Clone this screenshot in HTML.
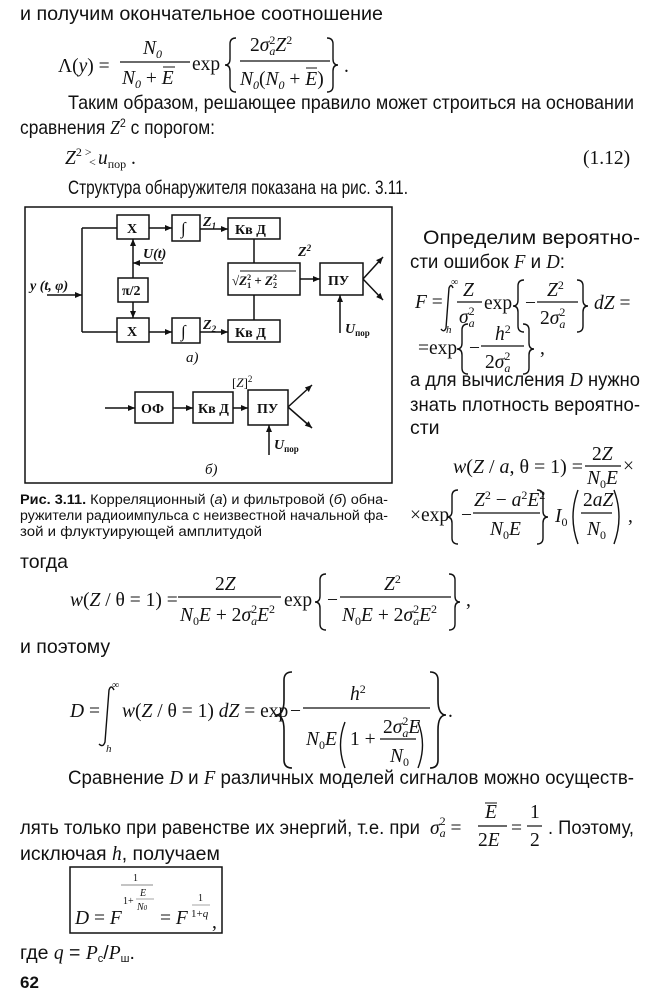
<!DOCTYPE html>
<html><head><meta charset="utf-8"><style>
html,body{margin:0;padding:0;background:#fff;width:650px;height:1000px;overflow:hidden}
svg{display:block;font-size:19.5px}
.t{font-family:"Liberation Sans",sans-serif;fill:#111}
.m{font-family:"Liberation Serif",serif;fill:#111}
.i{font-style:italic}
.s{font-size:12px}
.b{font-weight:bold}
.c{font-family:"Liberation Sans",sans-serif;font-size:13.5px;fill:#111}
.br{stroke:#111;stroke-width:1.4;fill:none}
</style></head><body>
<svg width="650" height="1000" viewBox="0 0 650 1000" xmlns="http://www.w3.org/2000/svg">
<defs><marker id="a" markerWidth="8" markerHeight="8" refX="7" refY="4" orient="auto" markerUnits="userSpaceOnUse"><path d="M0,1 L7,4 L0,7 z" fill="#111"/></marker></defs>
<text class="t" x="20" y="20" textLength="363" lengthAdjust="spacingAndGlyphs">и получим окончательное соотношение</text>
<text class="m" x="58" y="72">Λ(<tspan class="i">y</tspan>) =</text>
<text class="m i" x="143" y="54">N<tspan class="s" dy="4">0</tspan></text>
<line x1="120" y1="62" x2="190" y2="62" stroke="#111" stroke-width="1.2"/>
<text class="m i" x="122" y="84">N<tspan class="s" dy="4">0</tspan><tspan dy="-4" font-style="normal"> + </tspan>E</text>
<line x1="163" y1="67" x2="175" y2="67" stroke="#111" stroke-width="1"/>
<text class="m" x="192" y="70">exp</text>
<path class="br" d="M236,38 Q230,38 230,44 L230,59 Q230,65 225,65 Q230,65 230,71 L230,86 Q230,92 236,92"/>
<text class="m" x="250" y="51">2<tspan class="i">σ</tspan><tspan class="s" dy="-7">2</tspan><tspan class="s i" dx="-6" dy="11">a</tspan><tspan class="i" dy="-4">Z</tspan><tspan class="s" dy="-7">2</tspan></text>
<line x1="240" y1="61" x2="330" y2="61" stroke="#111" stroke-width="1.2"/>
<text class="m i" x="240" y="85">N<tspan class="s" dy="4">0</tspan><tspan dy="-4" font-style="normal">(</tspan>N<tspan class="s" dy="4">0</tspan><tspan dy="-4" font-style="normal"> + </tspan>E<tspan font-style="normal">)</tspan></text>
<line x1="306" y1="68" x2="317" y2="68" stroke="#111" stroke-width="1"/>
<path class="br" d="M327,38 Q333,38 333,44 L333,59 Q333,65 338,65 Q333,65 333,71 L333,86 Q333,92 327,92"/>
<text class="m" x="344" y="72">.</text>
<text class="t" x="68" y="109" textLength="566" lengthAdjust="spacingAndGlyphs">Таким образом, решающее правило может строиться на основании</text>
<text class="t" x="20" y="134" textLength="195" lengthAdjust="spacingAndGlyphs">сравнения <tspan class="i" font-family="Liberation Serif">Z</tspan><tspan font-size="12" dy="-7">2</tspan><tspan dy="7"> с порогом:</tspan></text>
<text class="m i" x="65" y="164">Z<tspan class="s" font-style="normal" dy="-8">2</tspan><tspan class="s" font-style="normal" dx="3" dy="0">&gt;</tspan></text>
<text class="m s" x="89" y="166">&lt;</text>
<text class="m i" x="98" y="164">u<tspan class="s" font-style="normal" dy="4">пор</tspan><tspan font-style="normal" dy="-4"> .</tspan></text>
<text class="m" x="583" y="164">(1.12)</text>
<text class="t" x="68" y="194" textLength="340" lengthAdjust="spacingAndGlyphs">Структура обнаружителя показана на рис. 3.11.</text>

<g stroke="#111" stroke-width="1.5" fill="none">
<rect x="25" y="207" width="367" height="276"/>
<rect x="117" y="215" width="32" height="24"/>
<rect x="172" y="215" width="28" height="26"/>
<rect x="228" y="218" width="52" height="21"/>
<rect x="228" y="263" width="72" height="32"/>
<rect x="320" y="263" width="43" height="32"/>
<rect x="118" y="278" width="30" height="24"/>
<rect x="117" y="318" width="32" height="24"/>
<rect x="172" y="318" width="28" height="25"/>
<rect x="228" y="320" width="52" height="22"/>
<path d="M82,228 L82,332 M82,228 L117,228 M82,332 L117,332"/>
<path d="M47,295 L82,295" marker-end="url(#a)"/>
<path d="M149,228 L172,228" marker-end="url(#a)"/>
<path d="M149,332 L172,332" marker-end="url(#a)"/>
<path d="M200,229 L228,229" marker-end="url(#a)"/>
<path d="M200,332 L228,332" marker-end="url(#a)"/>
<path d="M133,278 L133,239" marker-end="url(#a)"/>
<path d="M163,263 L133,263" marker-end="url(#a)"/>
<path d="M133,302 L133,318" marker-end="url(#a)"/>
<path d="M254,239 L254,263 M254,295 L254,320"/>
<path d="M300,279 L320,279" marker-end="url(#a)"/>
<path d="M363,279 L383,257" marker-end="url(#a)"/>
<path d="M363,279 L383,300" marker-end="url(#a)"/>
<path d="M340,333 L340,295" marker-end="url(#a)"/>
<rect x="135" y="392" width="38" height="31"/>
<rect x="193" y="392" width="40" height="31"/>
<rect x="248" y="390" width="40" height="35"/>
<path d="M105,408 L135,408" marker-end="url(#a)"/>
<path d="M173,408 L193,408" marker-end="url(#a)"/>
<path d="M233,408 L248,408" marker-end="url(#a)"/>
<path d="M288,407 L312,385" marker-end="url(#a)"/>
<path d="M288,407 L312,428" marker-end="url(#a)"/>
<path d="M269,455 L269,425" marker-end="url(#a)"/>
</g>
<g font-family="Liberation Serif,serif" font-weight="bold" font-size="14" fill="#111">
<text x="127" y="233">X</text>
<text x="127" y="336">X</text>
<text x="181" y="234" font-weight="normal" font-size="17">∫</text>
<text x="181" y="337" font-weight="normal" font-size="17">∫</text>
<text x="235" y="234">Кв Д</text>
<text x="235" y="337">Кв Д</text>
<text x="122" y="295">π/2</text>
<text x="328" y="285">ПУ</text>
<text x="232" y="285" font-size="13">√<tspan font-style="italic">Z</tspan><tspan font-size="8" dy="-5">2</tspan><tspan font-size="8" dx="-4" dy="8">1</tspan><tspan dy="-3"> + </tspan><tspan font-style="italic">Z</tspan><tspan font-size="8" dy="-5">2</tspan><tspan font-size="8" dx="-4" dy="8">2</tspan></text>
<line x1="240" y1="271" x2="296" y2="271" stroke="#111" stroke-width="1"/>
<text x="203" y="226" font-style="italic">Z<tspan font-size="9" dy="3">1</tspan></text>
<text x="203" y="329" font-style="italic">Z<tspan font-size="9" dy="3">2</tspan></text>
<text x="298" y="256" font-style="italic">Z<tspan font-size="9" dy="-5">2</tspan></text>
<text x="143" y="258" font-style="italic">U(t)</text>
<text x="30" y="290" font-style="italic">y (t, φ)</text>
<text x="345" y="333" font-style="italic">U<tspan font-size="9" font-style="normal" dy="3">пор</tspan></text>
<text x="186" y="362" font-weight="normal" font-style="italic" font-size="15">a)</text>
<text x="141" y="413">ОФ</text>
<text x="198" y="413">Кв Д</text>
<text x="257" y="413">ПУ</text>
<text x="232" y="387" font-weight="normal" font-size="13">[<tspan font-style="italic">Z</tspan>]<tspan font-size="9" dy="-5">2</tspan></text>
<text x="274" y="449" font-style="italic">U<tspan font-size="9" font-style="normal" dy="3">пор</tspan></text>
<text x="205" y="474" font-weight="normal" font-style="italic" font-size="15">б)</text>
</g>
<text class="c" x="20" y="504" textLength="368" lengthAdjust="spacingAndGlyphs"><tspan font-weight="bold">Рис. 3.11.</tspan> Корреляционный (<tspan font-style="italic">а</tspan>) и фильтровой (<tspan font-style="italic">б</tspan>) обна-</text>
<text class="c" x="20" y="520" textLength="368" lengthAdjust="spacingAndGlyphs">ружители радиоимпульса с неизвестной начальной фа-</text>
<text class="c" x="20" y="536" textLength="242" lengthAdjust="spacingAndGlyphs">зой и флуктуирующей амплитудой</text>

<text class="t" x="423" y="244" textLength="217" lengthAdjust="spacingAndGlyphs">Определим вероятно-</text>
<text class="t" x="410" y="268" textLength="155" lengthAdjust="spacingAndGlyphs">сти ошибок <tspan class="i" font-family="Liberation Serif">F</tspan> и <tspan class="i" font-family="Liberation Serif">D</tspan>:</text>
<text class="m" x="415" y="308"><tspan class="i">F</tspan> =</text>
<path class="br" d="M453,288 Q451,283 449,288 L446,328 Q444,333 441,329"/>
<text class="m" x="451" y="285" font-size="10">∞</text>
<text class="m i" x="446" y="333" font-size="11">h</text>
<text class="m i" x="463" y="296">Z</text>
<line x1="457" y1="302" x2="482" y2="302" stroke="#111" stroke-width="1.2"/>
<text class="m i" x="459" y="323">σ<tspan class="s" font-style="normal" dy="-8">2</tspan><tspan class="s" dx="-6" dy="12">a</tspan></text>
<text class="m" x="484" y="309">exp</text>
<path class="br" d="M524,280 Q518,280 518,286 L518,300 Q518,306 513,306 Q518,306 518,312 L518,326 Q518,332 524,332"/>
<text class="m" x="525" y="309">−</text>
<text class="m i" x="547" y="296">Z<tspan class="s" font-style="normal" dy="-7">2</tspan></text>
<line x1="537" y1="302" x2="578" y2="302" stroke="#111" stroke-width="1.2"/>
<text class="m" x="540" y="324">2<tspan class="i">σ</tspan><tspan class="s" dy="-8">2</tspan><tspan class="s i" dx="-6" dy="12">a</tspan></text>
<path class="br" d="M577,280 Q583,280 583,286 L583,300 Q583,306 588,306 Q583,306 583,312 L583,326 Q583,332 577,332"/>
<text class="m" x="594" y="309"><tspan class="i">dZ</tspan> =</text>
<text class="m" x="418" y="354">=exp</text>
<path class="br" d="M468,324 Q462,324 462,330 L462,343 Q462,349 457,349 Q462,349 462,355 L462,368 Q462,374 468,374"/>
<text class="m" x="469" y="354">−</text>
<text class="m i" x="495" y="340">h<tspan class="s" font-style="normal" dy="-7">2</tspan></text>
<line x1="481" y1="346" x2="524" y2="346" stroke="#111" stroke-width="1.2"/>
<text class="m" x="485" y="368">2<tspan class="i">σ</tspan><tspan class="s" dy="-8">2</tspan><tspan class="s i" dx="-6" dy="12">a</tspan></text>
<path class="br" d="M523,324 Q529,324 529,330 L529,343 Q529,349 534,349 Q529,349 529,355 L529,368 Q529,374 523,374"/>
<text class="m" x="540" y="354">,</text>
<text class="t" x="410" y="386" textLength="230" lengthAdjust="spacingAndGlyphs">а для вычисления <tspan class="i" font-family="Liberation Serif">D</tspan> нужно</text>
<text class="t" x="410" y="411" textLength="230" lengthAdjust="spacingAndGlyphs">знать плотность вероятно-</text>
<text class="t" x="410" y="434">сти</text>
<text class="m" x="453" y="473" textLength="130" lengthAdjust="spacingAndGlyphs"><tspan class="i">w</tspan>(<tspan class="i">Z</tspan> / <tspan class="i">a</tspan>, θ = 1) =</text>
<text class="m" x="592" y="460">2<tspan class="i">Z</tspan></text>
<line x1="585" y1="466" x2="621" y2="466" stroke="#111" stroke-width="1.2"/>
<text class="m i" x="587" y="484">N<tspan class="s" font-style="normal" dy="4">0</tspan><tspan dy="-4">E</tspan></text>
<text class="m" x="623" y="472">×</text>
<text class="m" x="410" y="521">×exp</text>
<path class="br" d="M458,490 Q452,490 452,496 L452,511 Q452,517 447,517 Q452,517 452,523 L452,538 Q452,544 458,544"/>
<text class="m" x="461" y="521">−</text>
<text class="m i" x="474" y="506">Z<tspan class="s" font-style="normal" dy="-7">2</tspan><tspan font-style="normal" dy="7"> − </tspan>a<tspan class="s" font-style="normal" dy="-7">2</tspan><tspan dy="7">E</tspan><tspan class="s" font-style="normal" dy="-7">2</tspan></text>
<line x1="473" y1="513" x2="540" y2="513" stroke="#111" stroke-width="1.2"/>
<text class="m i" x="490" y="535">N<tspan class="s" font-style="normal" dy="4">0</tspan><tspan dy="-4">E</tspan></text>
<path class="br" d="M537,490 Q543,490 543,496 L543,511 Q543,517 548,517 Q543,517 543,523 L543,538 Q543,544 537,544"/>
<text class="m i" x="555" y="522">I<tspan class="s" font-style="normal" dy="4">0</tspan></text>
<path class="br" d="M578,490 Q568,517 578,544 M614,490 Q624,517 614,544"/>
<text class="m" x="583" y="506">2<tspan class="i">aZ</tspan></text>
<line x1="581" y1="513" x2="612" y2="513" stroke="#111" stroke-width="1.2"/>
<text class="m i" x="587" y="535">N<tspan class="s" font-style="normal" dy="4">0</tspan></text>
<text class="m" x="628" y="522">,</text>

<text class="t" x="20" y="568">тогда</text>
<text class="m" x="70" y="606"><tspan class="i">w</tspan>(<tspan class="i">Z</tspan> / θ = 1) =</text>
<text class="m" x="215" y="590">2<tspan class="i">Z</tspan></text>
<line x1="178" y1="597" x2="281" y2="597" stroke="#111" stroke-width="1.2"/>
<text class="m i" x="180" y="621">N<tspan class="s" font-style="normal" dy="4">0</tspan><tspan dy="-4">E</tspan><tspan font-style="normal"> + 2</tspan>σ<tspan class="s" font-style="normal" dy="-8">2</tspan><tspan class="s" dx="-6" dy="12">a</tspan><tspan dy="-4">E</tspan><tspan class="s" font-style="normal" dy="-8">2</tspan></text>
<text class="m" x="284" y="606">exp</text>
<path class="br" d="M326,574 Q320,574 320,580 L320,596 Q320,602 315,602 Q320,602 320,608 L320,624 Q320,630 326,630"/>
<text class="m" x="327" y="606">−</text>
<text class="m i" x="384" y="590">Z<tspan class="s" font-style="normal" dy="-7">2</tspan></text>
<line x1="340" y1="597" x2="451" y2="597" stroke="#111" stroke-width="1.2"/>
<text class="m i" x="342" y="621">N<tspan class="s" font-style="normal" dy="4">0</tspan><tspan dy="-4">E</tspan><tspan font-style="normal"> + 2</tspan>σ<tspan class="s" font-style="normal" dy="-8">2</tspan><tspan class="s" dx="-6" dy="12">a</tspan><tspan dy="-4">E</tspan><tspan class="s" font-style="normal" dy="-8">2</tspan></text>
<path class="br" d="M449,574 Q455,574 455,580 L455,596 Q455,602 460,602 Q455,602 455,608 L455,624 Q455,630 449,630"/>
<text class="m" x="466" y="606">,</text>

<text class="t" x="20" y="653">и поэтому</text>
<text class="m" x="70" y="717"><tspan class="i">D</tspan> =</text>
<path class="br" d="M114,690 Q111,684 109,690 L105,742 Q103,748 99,744"/>
<text class="m" x="112" y="688" font-size="10">∞</text>
<text class="m i" x="106" y="752" font-size="11">h</text>
<text class="m" x="122" y="717"><tspan class="i">w</tspan>(<tspan class="i">Z</tspan> / θ = 1) <tspan class="i">dZ</tspan> = exp</text>
<path d="M292,672 q-8,0 -8,8 v20 q0,15 -8,15 q8,0 8,15 v30 q0,8 8,8" stroke="#111" stroke-width="1.6" fill="none"/>
<path d="M430,672 q8,0 8,8 v20 q0,15 8,15 q-8,0 -8,15 v30 q0,8 -8,8" stroke="#111" stroke-width="1.6" fill="none"/>
<text class="m" x="290" y="717">−</text>
<text class="m i" x="350" y="700">h<tspan class="s" font-style="normal" dy="-7">2</tspan></text>
<line x1="303" y1="708" x2="430" y2="708" stroke="#111" stroke-width="1.2"/>
<text class="m i" x="306" y="745">N<tspan class="s" font-style="normal" dy="4">0</tspan><tspan dy="-4">E</tspan></text>
<path class="br" d="M345,722 Q336,745 345,768 M418,722 Q427,745 418,768"/>
<text class="m" x="350" y="745">1 +</text>
<text class="m" x="383" y="733">2<tspan class="i">σ</tspan><tspan class="s" dy="-8">2</tspan><tspan class="s i" dx="-6" dy="12">a</tspan><tspan class="i" dy="-4">E</tspan></text>
<line x1="380" y1="739" x2="416" y2="739" stroke="#111" stroke-width="1.2"/>
<text class="m i" x="390" y="762">N<tspan class="s" font-style="normal" dy="4">0</tspan></text>
<text class="m" x="448" y="717">.</text>

<text class="t" x="68" y="784" textLength="566" lengthAdjust="spacingAndGlyphs">Сравнение <tspan class="i" font-family="Liberation Serif">D</tspan> и <tspan class="i" font-family="Liberation Serif">F</tspan> различных моделей сигналов можно осуществ-</text>
<text class="t" x="20" y="834" textLength="400" lengthAdjust="spacingAndGlyphs">лять только при равенстве их энергий, т.е. при</text>
<text class="m i" x="430" y="834">σ<tspan class="s" font-style="normal" dy="-9">2</tspan><tspan class="s" dx="-6" dy="12">a</tspan><tspan font-style="normal" dy="-3"> =</tspan></text>
<text class="m i" x="485" y="818">E</text>
<line x1="485" y1="803" x2="497" y2="803" stroke="#111" stroke-width="1"/>
<line x1="478" y1="826" x2="507" y2="826" stroke="#111" stroke-width="1.2"/>
<text class="m" x="478" y="846">2<tspan class="i">E</tspan></text>
<text class="m" x="511" y="834">=</text>
<text class="m" x="530" y="818">1</text>
<line x1="527" y1="826" x2="542" y2="826" stroke="#111" stroke-width="1.2"/>
<text class="m" x="530" y="846">2</text>
<text class="t" x="548" y="834" textLength="86" lengthAdjust="spacingAndGlyphs">. Поэтому,</text>
<text class="t" x="20" y="860">исключая <tspan class="i" font-family="Liberation Serif">h</tspan>, получаем</text>
<rect x="70" y="867" width="152" height="66" stroke="#111" stroke-width="1.5" fill="none"/>
<text class="m" x="75" y="924"><tspan class="i">D</tspan> = <tspan class="i">F</tspan></text>
<text class="m" x="133" y="881" font-size="10">1</text>
<line x1="121" y1="885" x2="153" y2="885" stroke="#888" stroke-width="1"/>
<text class="m" x="123" y="904" font-size="10">1+</text>
<text class="m i" x="140" y="896" font-size="10">E</text>
<line x1="136" y1="899" x2="154" y2="899" stroke="#888" stroke-width="0.8"/>
<text class="m i" x="137" y="910" font-size="10">N<tspan font-size="7">0</tspan></text>
<text class="m" x="160" y="924">= <tspan class="i">F</tspan></text>
<text class="m" x="198" y="901" font-size="10">1</text>
<line x1="192" y1="905" x2="210" y2="905" stroke="#888" stroke-width="0.8"/>
<text class="m" x="191" y="917" font-size="11">1+<tspan class="i">q</tspan></text>
<text class="m" x="212" y="928">,</text>
<text class="t" x="20" y="959">где <tspan class="i" font-family="Liberation Serif">q</tspan> = <tspan class="i" font-family="Liberation Serif">P</tspan><tspan font-size="11" dy="3">с</tspan><tspan dy="-3">/</tspan><tspan class="i" font-family="Liberation Serif">P</tspan><tspan font-size="11" dy="3">ш</tspan><tspan dy="-3">.</tspan></text>
<text class="t b" x="20" y="988" font-size="17">62</text>
</svg>
</body></html>
